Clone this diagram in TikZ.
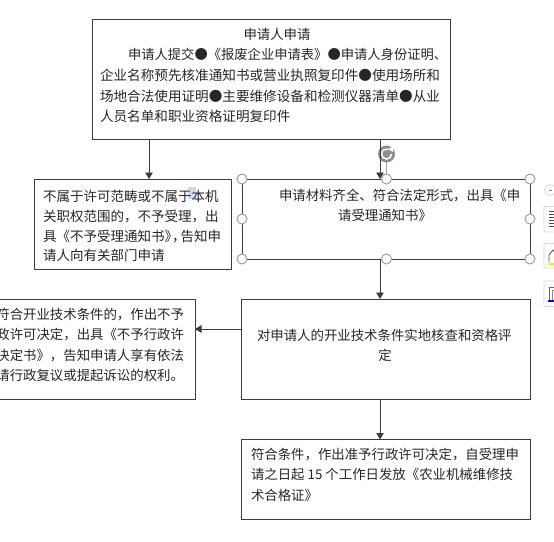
\documentclass[tikz,border=0pt]{standalone}
\usepackage{fontspec}
\newfontfamily\cjk{Noto Sans CJK SC}
\usetikzlibrary{arrows.meta}
\definecolor{edge}{HTML}{3C3C3C}
\definecolor{handle}{HTML}{A0A0A0}
\definecolor{rotor}{HTML}{8E8E8E}
\definecolor{toolline}{HTML}{D8D8D8}
\tikzset{
  box/.style={draw=edge,line width=0.9pt,fill=none,rectangle,inner sep=0pt,outer sep=0pt,anchor=north west},
  para/.style={inner sep=0pt,outer sep=0pt,anchor=north west,align=left,font=\cjk\fontsize{13.4}{20.5}\selectfont,text=black!85},
  conn/.style={draw=edge,line width=0.9pt,-{Triangle[length=6.5pt,width=7.5pt]}},
  hnd/.style={circle,draw=handle,fill=white,line width=1pt,minimum size=10pt,inner sep=0pt},
  toolbtn/.style={draw=toolline,fill=white,line width=0.8pt,rounded corners=1pt}
}
\begin{document}
\begin{tikzpicture}[x=1pt,y=-1pt]
\useasboundingbox (0,0) rectangle (554,541);
\clip (0,0) rectangle (554,541);
% highlight patch
\fill[blue!55!cyan!25] (188,187) rectangle (196,199);
% boxes
\node[box,minimum width=358pt,minimum height=120pt] (b1) at (92,19.5) {};
\node[box,minimum width=197pt,minimum height=90pt] (b2) at (34,179) {};
\node[box,minimum width=288pt,minimum height=80pt] (b3) at (242,179) {};
\node[box,minimum width=289pt,minimum height=100pt] (b4) at (241.5,299) {};
\node[box,minimum width=289pt,minimum height=80pt] (b5) at (241.5,439.5) {};
\node[box,minimum width=197pt,minimum height=100pt] (b6) at (-2,299) {};
% texts
\node[para,align=center,anchor=north] (t1a) at (277,28) {申请人申请};
\node[para,font=\cjk\fontsize{13.3}{20.5}\selectfont] (t1b) at (128,48.5) {申请人提交●《报废企业申请表》●申请人身份证明、};
\node[para,font=\cjk\fontsize{13.6}{20.5}\selectfont] (t1c) at (100,69) {企业名称预先核准通知书或营业执照复印件●使用场所和\\场地合法使用证明●主要维修设备和检测仪器清单●从业\\人员名单和职业资格证明复印件};
\node[para,font=\cjk\fontsize{13.5}{19.7}\selectfont] (t2) at (43,190.5) {不属于许可范畴或不属于本机\\关职权范围的，不予受理，出\\具《不予受理通知书》\hspace{-6pt}，\hspace{-5pt}告知申\\请人向有关部门申请};
\node[para] (t3a) at (279,189) {申请材料齐全、符合法定形式，出具《申};
\node[para,anchor=north] (t3b) at (385,209.5) {请受理通知书》};
\node[para] (t4a) at (257,329) {对申请人的开业技术条件实地核查和资格评};
\node[para,anchor=north] (t4b) at (385,349) {定};
\node[para] (t5) at (251,448) {符合条件，作出准予行政许可决定，自受理申\\请之日起 15 个工作日发放《农业机械维修技\\术合格证》};
\node[para,anchor=north east,align=right] (t6) at (184,308) {符合开业技术条件的，作出不予\\政许可决定，出具《不予行政许\\决定书》，告知申请人享有依法\\请行政复议或提起诉讼的权利。};
% connectors
\coordinate (xl) at (149,0);
\coordinate (xm) at (380,0);
\coordinate (yr) at (0,329);
\draw[conn] (b1.south -| xl) -- (b2.north -| xl);
% rotation handle
\coordinate (rotc) at (386.5,154);
\draw[handle,line width=1pt] (rotc) -- (386.5,179);
\fill[rotor] (rotc) circle (8.5);
\draw[white,line width=1.5pt] (391.5,154) arc (0:290:5);
\fill[white] (388,149) -- (393,146.5) -- (393,152) -- cycle;
\draw[conn] (b1.south -| xm) -- (b3.north -| xm);
\draw[conn] (b3.south -| xm) -- (b4.north -| xm);
\draw[conn] (b4.south -| xm) -- (b5.north -| xm);
\draw[conn] (b4.west |- yr) -- (b6.east |- yr);
% selection handles
\foreach \n/\hx/\hy in {h1/242/179,h2/386.5/179,h3/530/179,h4/242/219,h5/530/219,h6/242/259,h7/386.5/259,h8/530/259}
  \node[hnd] (\n) at (\hx,\hy) {};
% toolbar
\draw[toolline,fill=white,line width=0.8pt] (550,190) circle (5.5);
\draw[gray,line width=0.6pt] (549,190) -- (552,190);
\draw[toolbtn] (544,206.5) rectangle (560,232);
\draw[toolbtn] (544,243.5) rectangle (560,268);
\draw[toolbtn] (544,281) rectangle (560,306.5);
\foreach \yy in {211,214,217,220,223,226}
  \draw[black!70,line width=0.8pt] (549,\yy) -- (556,\yy);
\draw[black!65,line width=0.8pt] (549,262) -- (549,255) -- (553,250) -- (556,254);
\fill[yellow!90!orange] (548,262.5) rectangle (556,265);
\draw[black!60,line width=0.9pt] (549,300) -- (549,287) -- (556,287);
\draw[black!45,line width=0.9pt] (552,300) -- (552,290) -- (556,290);
\fill[blue] (548,300) rectangle (556,301.5);
\end{tikzpicture}
\end{document}
